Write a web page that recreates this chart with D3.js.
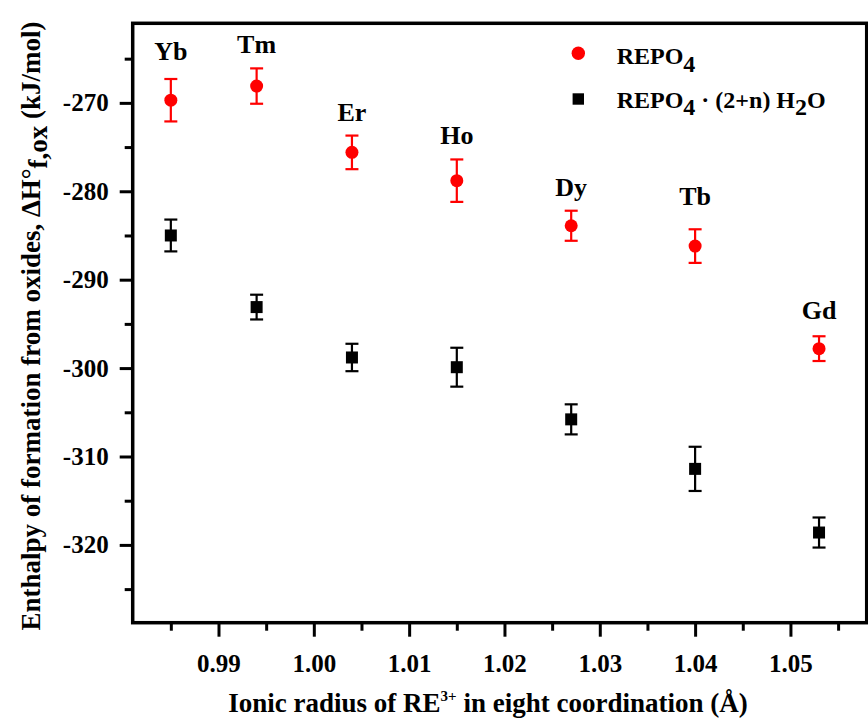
<!DOCTYPE html>
<html>
<head>
<meta charset="utf-8">
<script src="https://cdn.jsdelivr.net/npm/d3@7"></script>
<style>
  body { margin: 0; background: #fff; }
  text { font-family: "Liberation Serif", "Times New Roman", serif; font-weight: bold; }
</style>
</head>
<body>
<svg id="chart" width="868" height="719"></svg>
<script>
// ionic radius (A) and element names
var elements = ['Yb', 'Tm', 'Er', 'Ho', 'Dy', 'Tb', 'Gd']
var radius = [0.985, 0.994, 1.004, 1.015, 1.027, 1.040, 1.053]

// REPO4
var anhydrous = [-269.7, -268.1, -275.6, -278.8, -283.9, -286.2, -297.8]
var anhydrousErr = [2.4, 2.0, 1.9, 2.4, 1.7, 1.9, 1.4]

// REPO4 . (2+n) H2O
var hydrated = [-285.0, -293.1, -298.8, -299.9, -305.8, -311.4, -318.6]
var hydratedErr = [1.8, 1.4, 1.55, 2.2, 1.7, 2.5, 1.7]

// where the element names sit (y in kJ/mol)
var labelY = [-265.1, -264.4, -272.1, -274.6, -280.5, -281.5, -294.4]

var xMajor = [0.99, 1.00, 1.01, 1.02, 1.03, 1.04, 1.05]
var xMinor = [0.985, 0.995, 1.005, 1.015, 1.025, 1.035, 1.045, 1.055]
var yMajor = [-270, -280, -290, -300, -310, -320]
var yMinor = [-265, -275, -285, -295, -305, -315, -325]

// plot box (window.top is read-only, so use other names)
var plotL = 132.7, plotR = 866.7, plotT = 23.3, plotB = 622.7

var svg = d3.select('#chart')

var x = d3.scaleLinear().domain([0.981, 1.058]).range([plotL, plotR])
var y = d3.scaleLinear().domain([-328.8, -261]).range([plotB, plotT])

// axes
function styleAxis(g) {
  g.select('.domain').remove()
  g.attr('font-family', null)
  g.selectAll('.tick line').attr('stroke', '#000').attr('stroke-width', 3)
  g.selectAll('.tick text').attr('fill', '#000').style('font-size', '25px')
}

svg.append('g')
  .attr('transform', 'translate(0,' + plotB + ')')
  .call(d3.axisBottom(x).tickValues(xMinor).tickSize(8).tickFormat(''))
  .call(styleAxis)

svg.append('g')
  .attr('transform', 'translate(0,' + plotB + ')')
  .call(d3.axisBottom(x).tickValues(xMajor).tickSize(14).tickPadding(18).tickFormat(d3.format('.2f')))
  .call(styleAxis)

svg.append('g')
  .attr('transform', 'translate(' + plotL + ',0)')
  .call(d3.axisLeft(y).tickValues(yMinor).tickSize(8).tickFormat(''))
  .call(styleAxis)

// plain hyphen as in the original, not the unicode minus
svg.append('g')
  .attr('transform', 'translate(' + plotL + ',0)')
  .call(d3.axisLeft(y).tickValues(yMajor).tickSize(13).tickPadding(11).tickFormat(function (d) { return String(d) }))
  .call(styleAxis)

// frame
svg.append('rect')
  .attr('x', plotL).attr('y', plotT)
  .attr('width', plotR - plotL).attr('height', plotB - plotT)
  .attr('fill', 'none').attr('stroke', '#000').attr('stroke-width', 3.5)

function errorBars(vals, errs, color) {
  var g = svg.append('g').attr('stroke', color).attr('stroke-width', 2.2)
  vals.forEach(function (v, i) {
    var cx = x(radius[i])
    var y1 = y(v + errs[i]), y2 = y(v - errs[i])
    g.append('line').attr('x1', cx).attr('x2', cx).attr('y1', y1).attr('y2', y2)
    g.append('line').attr('x1', cx - 6.5).attr('x2', cx + 6.5).attr('y1', y1).attr('y2', y1)
    g.append('line').attr('x1', cx - 6.5).attr('x2', cx + 6.5).attr('y1', y2).attr('y2', y2)
  })
}

errorBars(anhydrous, anhydrousErr, '#ff0000')
errorBars(hydrated, hydratedErr, '#000')

svg.append('g').selectAll('circle')
  .data(anhydrous)
  .enter().append('circle')
    .attr('cx', function (d, i) { return x(radius[i]) })
    .attr('cy', function (d) { return y(d) })
    .attr('r', 6.5)
    .attr('fill', '#ff0000')

svg.append('g').selectAll('rect')
  .data(hydrated)
  .enter().append('rect')
    .attr('x', function (d, i) { return x(radius[i]) - 6 })
    .attr('y', function (d) { return y(d) - 6 })
    .attr('width', 12).attr('height', 12)
    .attr('fill', '#000')

// element names
svg.append('g').selectAll('text')
  .data(elements)
  .enter().append('text')
    .attr('x', function (d, i) { return x(radius[i]) })
    .attr('y', function (d, i) { return y(labelY[i]) })
    .attr('text-anchor', 'middle')
    .style('font-size', '26px')
    .text(function (d) { return d })

// legend
svg.append('circle').attr('cx', 578.3).attr('cy', 53.3).attr('r', 6.7).attr('fill', '#ff0000')
svg.append('rect').attr('x', 572.6).attr('y', 93.3).attr('width', 11.4).attr('height', 11.4).attr('fill', '#000')

var leg1 = svg.append('text').attr('x', 616.7).attr('y', 64.3).style('font-size', '24px')
leg1.append('tspan').text('REPO')
leg1.append('tspan').attr('dy', 7.5).text('4')

var leg2 = svg.append('text').attr('x', 616.7).attr('y', 107.7).style('font-size', '24px')
leg2.append('tspan').text('REPO')
leg2.append('tspan').attr('dy', 7.5).text('4')
leg2.append('tspan').attr('dy', -7.5).text(' \u00b7 (2+n) H')
leg2.append('tspan').attr('dy', 7.5).text('2')
leg2.append('tspan').attr('dy', -7.5).text('O')

// axis titles
var xt = svg.append('text').attr('x', 488).attr('y', 711.5)
  .attr('text-anchor', 'middle').style('font-size', '27px')
xt.append('tspan').text('Ionic radius of RE')
xt.append('tspan').attr('dy', -11).style('font-size', '15px').text('3+')
xt.append('tspan').attr('dy', 11).text(' in eight coordination (\u00c5)')

var yt = svg.append('text')
  .attr('transform', 'translate(40,326) rotate(-90)')
  .attr('text-anchor', 'middle').style('font-size', '27px')
yt.append('tspan').text('Enthalpy of formation from oxides, \u0394H\u00b0')
yt.append('tspan').attr('dy', 7).text('f,ox')
yt.append('tspan').attr('dy', -7).text(' (kJ/mol)')
</script>
</body>
</html>
